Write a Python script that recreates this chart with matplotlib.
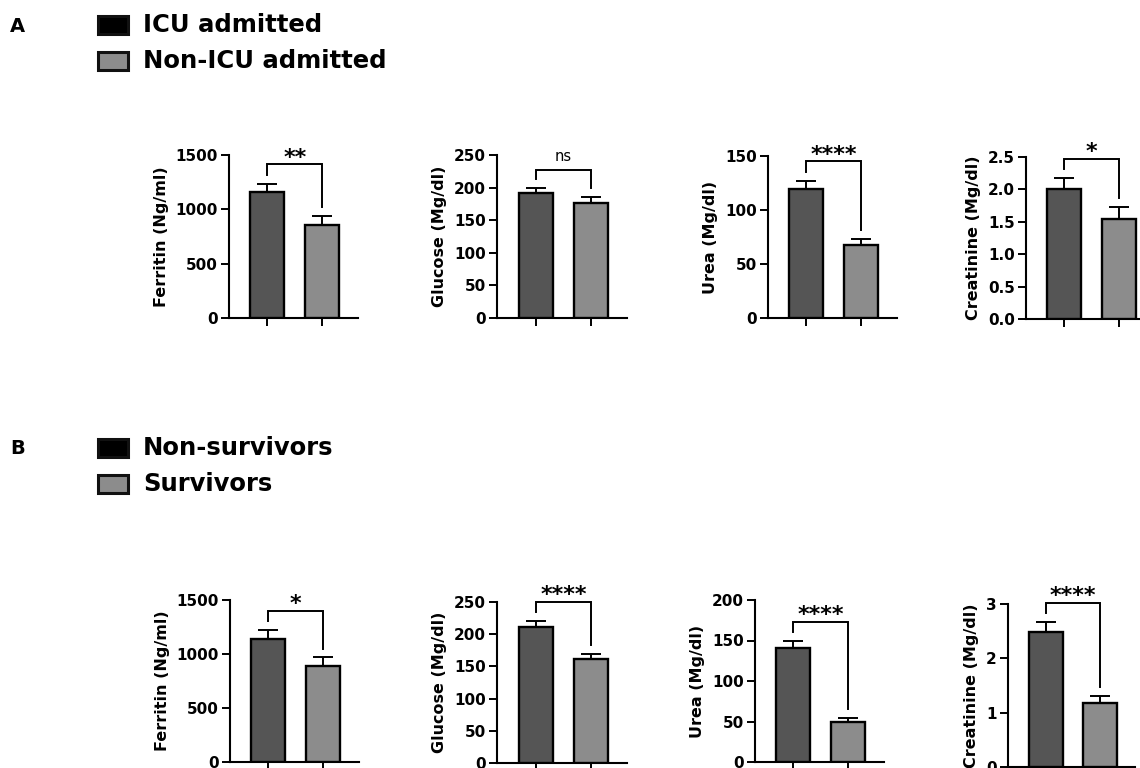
import matplotlib
matplotlib.use("Agg")
import matplotlib.pyplot as plt
from matplotlib.patches import Rectangle

plt.rcParams['font.family'] = ['DejaVu Sans']
plt.rcParams['font.weight'] = 'bold'

# ---------------- data ----------------
groups_a = ["ICU admitted", "Non-ICU admitted"]
groups_b = ["Non-survivors", "Survivors"]
measures = ["Ferritin (Ng/ml)", "Glucose (Mg/dl)", "Urea (Mg/dl)", "Creatinine (Mg/dl)"]

# Panel A: ICU vs Non-ICU (mean, upper SEM)
a_mean_1 = [1160, 191, 119, 2.01]
a_err_1 = [75, 8, 8, 0.16]
a_mean_2 = [860, 177, 67.5, 1.55]
a_err_2 = [80, 8, 5.5, 0.18]
a_sig = ["**", "ns", "****", "*"]
a_bracket = [1414, 227, 145, 2.47]
a_yticks = [[0, 500, 1000, 1500], [0, 50, 100, 150, 200, 250], [0, 50, 100, 150],
            [0.0, 0.5, 1.0, 1.5, 2.0, 2.5]]

# Panel B: Non-survivors vs Survivors
b_mean_1 = [1136, 211, 140.5, 2.49]
b_err_1 = [86, 9, 9.5, 0.18]
b_mean_2 = [891, 161.5, 49.5, 1.17]
b_err_2 = [77, 8, 5, 0.13]
b_sig = ["*", "****", "****", "****"]
b_bracket = [1398, 250, 173, 3.02]
b_yticks = [[0, 500, 1000, 1500], [0, 50, 100, 150, 200, 250], [0, 50, 100, 150, 200],
            [0, 1, 2, 3]]

# ---------------- style ----------------
W, H = 1140, 768
c1 = "#555555"
c2 = "#8c8c8c"

fig = plt.figure(figsize=(W / 100, H / 100), dpi=100)

# axes pixel boxes: (left, top, right, bottom)
a_boxes = [(229, 155, 358, 318), (497, 155, 627, 318), (768, 156, 897, 318), (1026, 157, 1155, 319)]
b_boxes = [(230, 600, 359, 762), (497, 602, 627, 763), (755, 600, 884, 762), (1008, 604, 1135, 767)]


def fmt_tick(ticks):
    if any(isinstance(t, float) for t in ticks):
        return [f"{t:.1f}" for t in ticks]
    return [f"{t}" for t in ticks]


def draw_panel(box, label, m1, e1, m2, e2, sig, btop, yticks):
    l, t, r, b = box
    ax = fig.add_axes([l / W, 1 - b / H, (r - l) / W, (b - t) / H])
    xs = [0, 1]
    ymax = yticks[-1]
    ax.bar(xs, [m1, m2], width=0.62, color=[c1, c2], edgecolor="black", linewidth=1.7, zorder=3)
    ax.errorbar(xs, [m1, m2], yerr=[[0, 0], [e1, e2]], fmt="none", ecolor="black",
                elinewidth=1.4, capsize=7, capthick=1.4, zorder=2, clip_on=False)
    ax.set_xlim(-0.7, 1.65)
    ax.set_ylim(0, ymax)
    ax.set_yticks(yticks)
    ax.set_yticklabels(fmt_tick(yticks), fontsize=11, fontweight="bold")
    ax.set_xticks(xs)
    ax.set_xticklabels(["", ""])
    ax.tick_params(axis="both", width=1.4, length=6, direction="out", pad=2)
    for s in ["top", "right"]:
        ax.spines[s].set_visible(False)
    for s in ["left", "bottom"]:
        ax.spines[s].set_linewidth(1.5)
    ax.set_ylabel(label, fontsize=11.5, fontweight="bold", labelpad=5)
    off = 0.055 * ymax
    leg1 = m1 + e1 + off
    leg2 = m2 + e2 + off
    ax.plot([0, 0, 1, 1], [leg1, btop, btop, leg2], color="black", lw=1.4,
            clip_on=False, solid_joinstyle="miter")
    if sig == "ns":
        ax.text(0.5, btop + 0.035 * ymax, sig, ha="center", va="bottom", fontsize=10.5,
                fontweight="normal")
    else:
        ax.text(0.5, btop - 0.02 * ymax, sig, ha="center", va="bottom", fontsize=16,
                fontweight="bold")
    return ax


for i in range(4):
    draw_panel(a_boxes[i], measures[i], a_mean_1[i], a_err_1[i], a_mean_2[i], a_err_2[i],
               a_sig[i], a_bracket[i], a_yticks[i])
    draw_panel(b_boxes[i], measures[i], b_mean_1[i], b_err_1[i], b_mean_2[i], b_err_2[i],
               b_sig[i], b_bracket[i], b_yticks[i])


def legend(letter, ytop, names):
    fig.text(10 / W, 1 - (ytop + 11) / H, letter, fontsize=14, fontweight="bold",
             ha="left", va="center")
    fills = ["#000000", c2]
    for k, (nm, fc) in enumerate(zip(names, fills)):
        yc = ytop + 10 + 36 * k
        fig.patches.append(Rectangle((98 / W, 1 - (yc + 9) / H), 30 / W, 18 / H,
                                     transform=fig.transFigure, facecolor=fc,
                                     edgecolor="#111111", linewidth=2.2))
        fig.text(143 / W, 1 - yc / H, nm, fontsize=17.5, fontweight="bold",
                 ha="left", va="center")


legend("A", 15, groups_a)
legend("B", 438, groups_b)

fig.savefig("out.png", dpi=100, facecolor="white")
